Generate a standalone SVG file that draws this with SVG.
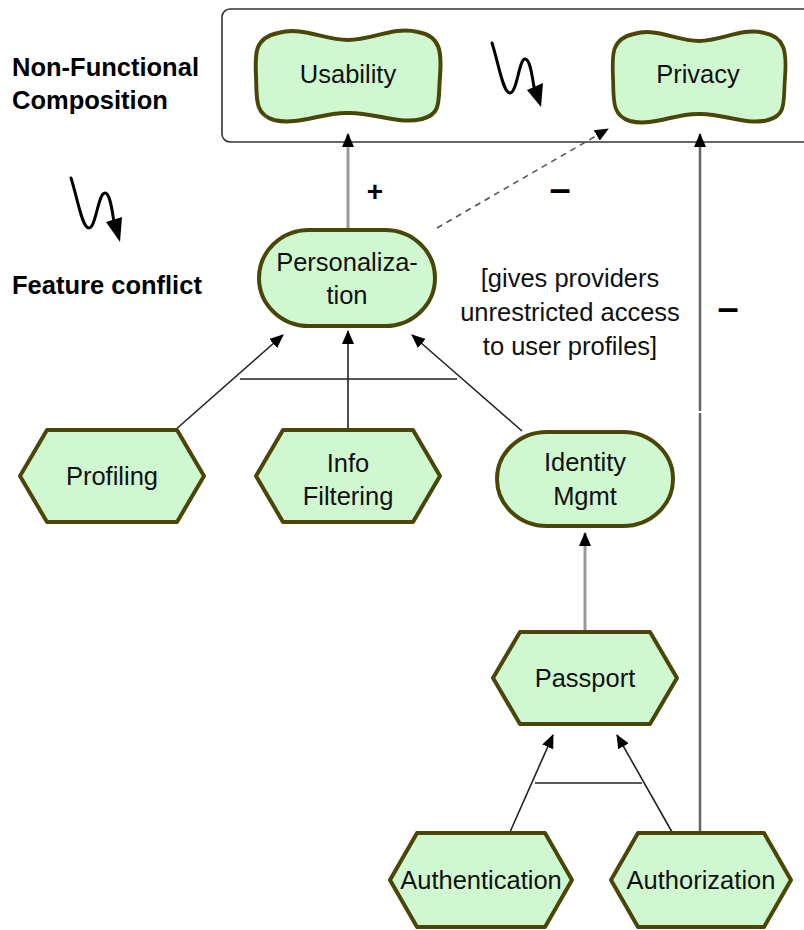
<svg xmlns="http://www.w3.org/2000/svg" width="804" height="930" viewBox="0 0 804 930">
<style>
.node{fill:#d0f8d0;stroke:#4a4608;stroke-width:4;stroke-linejoin:round}
.lbl{font-family:"Liberation Sans",Arial,sans-serif;font-size:25.5px;fill:#111;text-anchor:middle}
.side{font-family:"Liberation Sans",Arial,sans-serif;font-size:25.5px;font-weight:bold;fill:#000}
.sign{font-family:"Liberation Sans",Arial,sans-serif;font-size:28px;font-weight:bold;fill:#000;text-anchor:middle}
.minus{font-family:"Liberation Sans",Arial,sans-serif;font-size:38px;font-weight:bold;fill:#000;text-anchor:middle}
.contrib{stroke:#999;stroke-width:3;fill:none}
.contrib2{stroke:#666;stroke-width:2.5;fill:none}
.dec{stroke:#222;stroke-width:1.6;fill:none}
.bar{stroke:#222;stroke-width:1.6}
.dash{stroke:#555;stroke-width:1.6;stroke-dasharray:6 5;fill:none}
.squig{stroke:#000;stroke-width:3;fill:none;stroke-linecap:round}
</style>
<defs>
<marker id="ah" markerWidth="14" markerHeight="12" refX="13" refY="6" orient="auto" markerUnits="userSpaceOnUse">
<path d="M0,0 L14,6 L0,12 z" fill="#000"/>
</marker>
<path id="sg" d="M -70,-43 C -45,-50 -25,-36 0,-36 C 25,-36 45,-50 70,-44 C 92,-40 94,-25 92,0 C 90,25 94,38 74,43 C 50,49 25,36 0,37 C -25,36 -50,50 -74,44 C -94,38 -91,22 -92,0 C -93,-22 -94,-38 -70,-43 Z"/>
</defs>
<rect width="804" height="930" fill="#fff"/>

<!-- composition box -->
<rect x="222" y="9" width="600" height="133" rx="8" ry="8" fill="none" stroke="#333" stroke-width="1.6"/>

<!-- side labels -->
<text class="side" x="12" y="76">Non-Functional</text>
<text class="side" x="12" y="109">Composition</text>
<text class="side" x="12" y="294">Feature conflict</text>

<!-- squiggle icons -->
<g id="icon-left">
<path class="squig" d="M71,178 C 78,200 82,228 89,228 C 96,228 98,193 105,193 C 110,193 112,210 114,222"/>
<polygon points="106,222 122,217 120,242" fill="#000"/>
</g>
<g id="icon-box">
<path class="squig" d="M492,43 C 499,65 503,93 510,93 C 517,93 519,59 525,59 C 530,59 532,75 534,87"/>
<polygon points="527,90 543,83 541,107" fill="#000"/>
</g>

<!-- connectors -->
<g id="connectors">
<line class="contrib" x1="348" y1="229" x2="348" y2="134" marker-end="url(#ah)"/>
<line class="contrib2" x1="700" y1="832" x2="700" y2="413"/>
<line class="contrib2" x1="700" y1="411" x2="700" y2="134" marker-end="url(#ah)"/>
<line class="contrib" x1="585" y1="632" x2="585" y2="533" marker-end="url(#ah)"/>
<line class="dash" x1="437" y1="228" x2="608" y2="129" marker-end="url(#ah)"/>
<line class="dec" x1="174" y1="431" x2="283" y2="335" marker-end="url(#ah)"/>
<line class="dec" x1="348" y1="431" x2="348" y2="331" marker-end="url(#ah)"/>
<line class="dec" x1="522" y1="431" x2="412" y2="335" marker-end="url(#ah)"/>
<line class="bar" x1="240" y1="379" x2="457" y2="379"/>
<line class="dec" x1="510" y1="832" x2="553" y2="735" marker-end="url(#ah)"/>
<line class="dec" x1="672" y1="832" x2="617" y2="735" marker-end="url(#ah)"/>
<line class="bar" x1="535" y1="783" x2="642" y2="783"/>
</g>

<!-- signs and annotation -->
<text class="sign" x="375" y="201">+</text>
<text class="minus" x="560" y="202">–</text>
<text class="minus" x="728" y="321">–</text>
<text class="lbl" x="570" y="287">[gives providers</text>
<text class="lbl" x="570" y="321">unrestricted access</text>
<text class="lbl" x="570" y="355">to user profiles]</text>

<!-- nodes -->
<g id="usability">
<use href="#sg" class="node" transform="translate(348,76)"/>
<text class="lbl" x="348" y="83">Usability</text>
</g>
<g id="privacy">
<use href="#sg" class="node" transform="translate(699,77) scale(0.935,1)"/>
<text class="lbl" x="698" y="83">Privacy</text>
</g>
<g id="personalization">
<rect class="node" x="259" y="230" width="176" height="96" rx="50" ry="48"/>
<text class="lbl" x="347" y="271">Personaliza-</text>
<text class="lbl" x="347" y="304">tion</text>
</g>
<g id="profiling">
<polygon class="node" points="20,476 47,430 177,430 204,476 177,522 47,522"/>
<text class="lbl" x="112" y="485">Profiling</text>
</g>
<g id="info-filtering">
<polygon class="node" points="256,476 283,430 413,430 440,476 413,522 283,522"/>
<text class="lbl" x="348" y="472">Info</text>
<text class="lbl" x="348" y="505">Filtering</text>
</g>
<g id="identity-mgmt">
<rect class="node" x="497" y="432" width="176" height="94" rx="50" ry="47"/>
<text class="lbl" x="585" y="471">Identity</text>
<text class="lbl" x="585" y="505">Mgmt</text>
</g>
<g id="passport">
<polygon class="node" points="493,678 520,632 650,632 677,678 650,724 520,724"/>
<text class="lbl" x="585" y="687">Passport</text>
</g>
<g id="authentication">
<polygon class="node" points="390,880 417,833 545,833 572,880 545,927 417,927"/>
<text class="lbl" x="481" y="889">Authentication</text>
</g>
<g id="authorization">
<polygon class="node" points="611,880 638,833 764,833 791,880 764,927 638,927"/>
<text class="lbl" x="701" y="889">Authorization</text>
</g>
</svg>
